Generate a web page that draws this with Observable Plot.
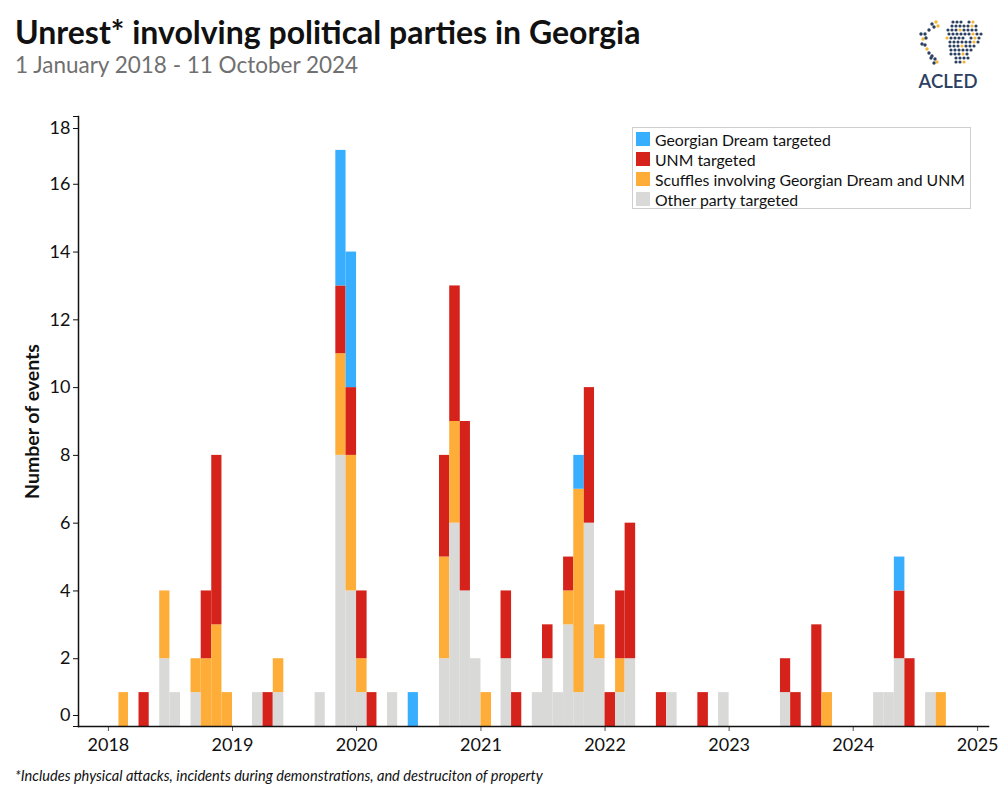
<!DOCTYPE html>
<html>
<head>
<meta charset="utf-8">
<script src="https://cdn.jsdelivr.net/npm/d3@7"></script>
<script src="https://cdn.jsdelivr.net/npm/@observablehq/plot@0.6"></script>
<style>
  html, body { margin: 0; padding: 0; background: #fff; }
  body { font-family: Lato, "Open Sans", sans-serif; }
  #wrap { position: relative; width: 1000px; height: 800px; overflow: hidden; }
  #title { position: absolute; left: 15px; top: 13px; font-size: 32px; font-weight: 700; color: #111; white-space: nowrap; line-height: 38px; }
  #subtitle { position: absolute; left: 15px; top: 51px; font-size: 22.5px; color: #707070; white-space: nowrap; line-height: 28px; }
  #chart { position: absolute; left: 0; top: 100px; }
  #legend { position: absolute; left: 632px; top: 127px; width: 339px; height: 82px; border: 1px solid #cfcfcf; box-sizing: border-box; padding: 1px 0 0 3px; background: #fff; }
  .row { display: flex; align-items: center; height: 20px; font-size: 15.8px; color: #111; white-space: nowrap; }
  .sw { width: 14px; height: 14px; margin-right: 5px; flex: none; }
  #caption { position: absolute; left: 15px; top: 766px; font-size: 14.6px; font-style: italic; color: #111; white-space: nowrap; line-height: 20px; }
  #logo { position: absolute; left: 910px; top: 12px; }
</style>
</head>
<body>
<div id="wrap">
  <div id="title">Unrest* involving political parties in Georgia</div>
  <div id="subtitle">1 January 2018 - 11 October 2024</div>
  <div id="logo"></div>
  <div id="chart"></div>
  <div id="legend"></div>
  <div id="caption">*Includes physical attacks, incidents during demonstrations, and destruciton of property</div>
</div>
<script>
// ---- Data (monthly event counts; months not listed have no events) ----
const months = ["2018-02","2018-04","2018-06","2018-07","2018-09","2018-10","2018-11","2018-12",
  "2019-03","2019-04","2019-05","2019-09","2019-11","2019-12",
  "2020-01","2020-02","2020-04","2020-06","2020-09","2020-10","2020-11","2020-12",
  "2021-01","2021-03","2021-04","2021-06","2021-07","2021-08","2021-09","2021-10","2021-11","2021-12",
  "2022-01","2022-02","2022-03","2022-06","2022-07","2022-10","2022-12",
  "2023-06","2023-07","2023-09","2023-10",
  "2024-03","2024-04","2024-05","2024-06","2024-08","2024-09"];
const otherParty = [0,0,2,1,1,0,0,0, 1,0,1,1,8,4, 1,0,1,0,2,6,4,2, 0,2,0,1,2,1,3,1,6,2, 0,1,2,0,1,0,1, 1,0,0,0, 1,1,2,0,1,0];
const scuffles   = [1,0,2,0,1,2,3,1, 0,0,1,0,3,4, 1,0,0,0,3,3,0,0, 1,0,0,0,0,0,1,6,0,1, 0,1,0,0,0,0,0, 0,0,0,1, 0,0,0,0,0,1];
const unm        = [0,1,0,0,0,2,5,0, 0,1,0,0,2,2, 2,1,0,0,3,4,5,0, 0,2,1,0,1,0,1,0,4,0, 1,2,4,1,0,1,0, 1,1,3,0, 0,0,2,2,0,0];
const gd         = [0,0,0,0,0,0,0,0, 0,0,0,0,4,4, 0,0,0,1,0,0,0,0, 0,0,0,0,0,0,0,1,0,0, 0,0,0,0,0,0,0, 0,0,0,0, 0,0,1,0,0,0];

const categories = ["Other party targeted", "Scuffles involving Georgian Dream and UNM", "UNM targeted", "Georgian Dream targeted"];
const colors = ["#D9DAD8", "#FDAD38", "#D5231B", "#38AEFE"];
const legendOrder = ["Georgian Dream targeted", "UNM targeted", "Scuffles involving Georgian Dream and UNM", "Other party targeted"];
const yTicks = [0, 2, 4, 6, 8, 10, 12, 14, 16, 18];
const xTickYears = [2018, 2019, 2020, 2021, 2022, 2023, 2024, 2025];

const series = [otherParty, scuffles, unm, gd];
const rows = [];
months.forEach((m, i) => {
  const [yy, mm] = m.split("-").map(Number);
  const date = new Date(Date.UTC(yy, mm - 1, 1));
  series.forEach((s, k) => {
    if (s[i] > 0) rows.push({date, category: categories[k], count: s[i]});
  });
});

const xTicks = xTickYears.map(y => new Date(Date.UTC(y, 0, 1)));

const chart = Plot.plot({
  width: 1000,
  height: 660,
  marginTop: 16,
  marginBottom: 34,
  marginLeft: 78,
  marginRight: 12,
  style: {fontFamily: "Lato, 'Open Sans', sans-serif", color: "#111", background: "#fff"},
  x: {type: "utc", domain: [new Date(Date.UTC(2017, 9, 5)), new Date(Date.UTC(2025, 1, 2))]},
  y: {domain: [0, 18]},
  color: {domain: categories, range: colors},
  marks: [
    Plot.rectY(rows, Plot.stackY({
      x: "date", interval: "month", y: "count", fill: "category", z: "category",
      order: categories, inset: 0
    })),
    Plot.axisX(xTicks, {tickSize: 5, tickPadding: 7, fontSize: 18, tickFormat: d3.utcFormat("%Y"), stroke: "#555", label: null}),
    Plot.axisY(yTicks, {tickSize: 5, tickPadding: 3, fontSize: 18, tickFormat: d => (d === 0 || d === 18) ? "" : d, label: null}),
    Plot.axisY([0], {tickSize: 5, tickPadding: 3, fontSize: 18, dy: -11, label: null}),
    Plot.axisY([18], {tickSize: 5, tickPadding: 3, fontSize: 18, dy: 12, label: null}),
    Plot.frame({anchor: "left", stroke: "#111", strokeWidth: 1.5}),
    Plot.frame({anchor: "bottom", stroke: "#111", strokeWidth: 1.5}),
    Plot.text(["Number of events"], {frameAnchor: "left", textAnchor: "middle", dx: -46, rotate: -90, fontSize: 19.5, fontWeight: "bold", fill: "#111"})
  ]
});
document.getElementById("chart").appendChild(chart);

// Legend
const legend = document.getElementById("legend");
legendOrder.forEach(name => {
  const row = document.createElement("div");
  row.className = "row";
  const sw = document.createElement("span");
  sw.className = "sw";
  sw.style.background = colors[categories.indexOf(name)];
  const t = document.createElement("span");
  t.textContent = name;
  row.appendChild(sw); row.appendChild(t);
  legend.appendChild(row);
});

// Logo (decorative dotted globe + wordmark)
const navy = "#2C4061", gold = "#F4B637";
let svg = '<svg width="76" height="80" xmlns="http://www.w3.org/2000/svg">';
const leftDots = [[22,12],[26,10],[24,15],[19,18],[15,22],[13,27],[16,26],[12,32],[15,33],[17,37],[19,41],[22,44],[25,47],[27,50],[24,51],[21,46],[11,22],[28,14]];
leftDots.forEach(([x, y], i) => { svg += `<circle cx="${x}" cy="${y}" r="1.7" fill="${i % 4 === 1 ? gold : navy}"/>`; });
for (let r = 0; r < 11; r++) {
  const y = 10 + r * 4;
  const half = [10, 13, 15, 16, 16, 15, 13, 11, 9, 6, 4][r];
  const cx = 53 + (r > 6 ? -3 : 0);
  for (let x = cx - half; x <= cx + half; x += 4) {
    if ((r * 5 + x) % 11 === 0) continue;
    const g = ((r * 3 + Math.round(x)) % 7 === 0);
    svg += `<circle cx="${x + (r % 2) * 2}" cy="${y}" r="1.6" fill="${g ? gold : navy}"/>`;
  }
}
svg += `<text x="38" y="76" text-anchor="middle" font-family="Lato, sans-serif" font-size="18.5" font-weight="600" fill="${navy}">ACLED</text></svg>`;
document.getElementById("logo").innerHTML = svg;
</script>
</body>
</html>
